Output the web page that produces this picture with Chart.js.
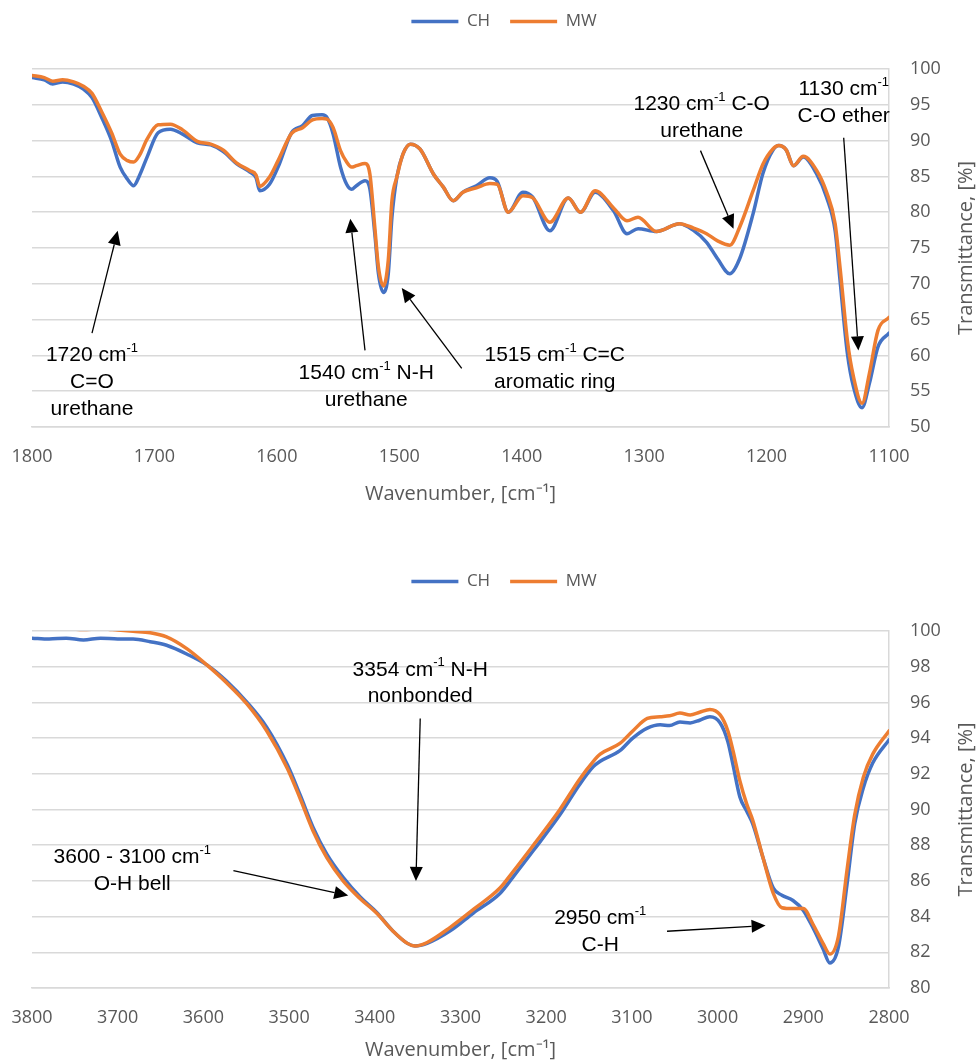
<!DOCTYPE html>
<html><head><meta charset="utf-8">
<script src="https://cdn.jsdelivr.net/npm/chart.js@4"></script>
<style>
html,body{margin:0;padding:0;background:#fff;}
#wrap{position:relative;width:976px;height:1063px;overflow:hidden;}
#c1{position:absolute;left:0;top:-9px;}
#c2{position:absolute;left:0;top:532px;}
</style></head><body>
<div id="wrap"><canvas id="c1" width="976" height="529"></canvas><canvas id="c2" width="976" height="531"></canvas></div>
<script>
// ---------- data ----------
const seriesNames = ['CH', 'MW'];

// Fingerprint region 1800-1100 cm-1
const fpWavenumber = [1800,1790,1783,1775,1766,1758,1751,1743,1735,1728,1722,1717,1712,1706,1697,1687,1677,1665,1654,1644,1633,1622,1617,1614,1606,1599,1588,1579,1571,1563,1559,1554,1548,1543,1539,1535,1528,1524,1520,1517,1513,1509,1506,1502,1497,1491,1483,1472,1464,1456,1448,1437,1426,1420,1411,1399,1391,1377,1362,1352,1340,1325,1314,1305,1290,1271,1260,1249,1240,1230,1222,1211,1203,1195,1190,1184,1178,1170,1159,1151,1144,1140,1134,1129,1122,1116,1109,1100];
const fpCH = [98.8,98.5,97.9,98.2,97.9,97.2,96.0,93.2,90.0,86.3,84.6,83.7,85.2,87.7,91.1,91.6,90.9,89.7,89.4,88.5,86.8,85.6,84.8,83.0,83.9,86.3,91.1,92.1,93.5,93.6,93.2,90.9,86.3,83.9,83.2,83.7,84.4,83.2,77.0,71.4,68.8,71.4,79.3,84.9,88.1,89.5,88.8,85.3,83.5,81.6,82.8,83.7,84.8,84.3,80.0,82.8,82.1,77.4,82.0,80.0,82.8,80.2,77.0,77.7,77.3,78.4,77.5,75.8,73.5,71.4,73.5,79.8,85.4,88.6,89.3,88.7,86.5,87.7,85.3,82.1,77.4,70.5,60.3,55.6,52.7,56.1,61.2,63.1];
const fpMW = [99.1,98.8,98.3,98.5,98.2,97.6,96.6,94.0,91.1,88.1,87.2,87.0,88.0,90.2,92.2,92.3,91.5,89.9,89.5,88.7,86.9,85.8,85.2,83.6,84.9,87.2,91.0,91.8,92.9,93.1,93.0,91.8,88.6,87.0,86.3,86.5,86.8,85.3,77.9,72.3,69.7,73.3,81.6,84.9,88.1,89.5,88.8,85.3,83.5,81.6,82.8,83.4,84.0,83.9,80.0,82.3,82.0,78.6,82.0,80.0,83.0,80.6,78.8,79.3,77.3,78.4,77.8,77.0,76.0,75.4,77.9,83.0,86.7,88.8,89.3,88.7,86.5,87.8,85.8,82.8,78.4,72.3,62.1,57.0,53.3,57.5,63.5,65.3];

// O-H / N-H / C-H region 3800-2800 cm-1
const ohWavenumber = [3800,3780,3760,3740,3720,3700,3682,3662,3643,3619,3596,3573,3549,3526,3502,3487,3472,3456,3437,3417,3398,3379,3362,3353,3339,3312,3285,3254,3239,3215,3184,3161,3145,3137,3114,3099,3082,3067,3056,3044,3032,3021,3009,2997,2988,2982,2974,2966,2959,2947,2935,2925,2912,2900,2889,2877,2869,2859,2849,2840,2830,2819,2800];
const ohCH = [99.6,99.55,99.6,99.5,99.6,99.55,99.55,99.4,99.2,98.7,98.1,97.2,96.0,94.6,92.5,90.8,89.0,87.5,86.2,85.1,84.25,83.2,82.5,82.35,82.5,83.2,84.2,85.3,86.2,87.7,89.7,91.4,92.4,92.7,93.3,94.0,94.56,94.75,94.7,94.9,94.85,95.0,95.2,94.85,93.8,92.5,90.7,89.9,89.2,87.3,85.6,85.2,84.9,84.35,83.4,82.2,81.4,82.3,85.8,89.2,91.2,92.6,93.9];
const ohMW = [100.35,100.3,100.15,100.08,100.12,100.05,99.98,99.9,99.67,99.0,98.1,97.1,95.9,94.4,92.3,90.6,88.8,87.3,86.0,85.0,84.2,83.2,82.5,82.35,82.55,83.4,84.4,85.6,86.5,88.0,90.0,91.7,92.7,93.1,93.7,94.4,95.1,95.2,95.25,95.4,95.3,95.45,95.6,95.3,94.4,93.3,91.6,90.3,89.4,87.3,85.3,84.5,84.45,84.45,83.6,82.5,81.9,82.9,86.6,89.7,91.8,93.1,94.4];

// tick labels
const fpXTicks = [1800,1700,1600,1500,1400,1300,1200,1100];
const fpYTicks = [50,55,60,65,70,75,80,85,90,95,100];
const ohXTicks = [3800,3700,3600,3500,3400,3300,3200,3100,3000,2900,2800];
const ohYTicks = [80,82,84,86,88,90,92,94,96,98,100];

// annotations (text anchored in data units: [wavenumber, transmittance])
const fpNotes = [
  {lines:['1720 cm^{-1}','C=O','urethane'], at:[1751,60.0], from:[1751,63.1], to:[1730,77.4]},
  {lines:['1540 cm^{-1} N-H','urethane'], at:[1527,57.5], from:[1528,60.7], to:[1540,79.1]},
  {lines:['1515 cm^{-1} C=C','aromatic ring'], at:[1373,60.0], from:[1449,58.2], to:[1498,69.4]},
  {lines:['1230 cm^{-1} C-O','urethane'], at:[1253,95.1], from:[1254,88.6], to:[1227,77.7]},
  {lines:['1130 cm^{-1}','C-O ether'], at:[1137,97.2], from:[1137,90.4], to:[1125,60.7]}
];
const ohNotes = [
  {lines:['3354 cm^{-1} N-H','nonbonded'], at:[3347,97.83], from:[3347,95.1], to:[3352,86.0]},
  {lines:['3600 - 3100 cm^{-1}','O-H bell'], at:[3683,87.3], from:[3565,86.57], to:[3431,85.18]},
  {lines:['2950 cm^{-1}','C-H'], at:[3137,83.9], from:[3059,83.18], to:[2944,83.5]}
];

// ---------- drawing ----------
const BLUE = '#4472C4', ORANGE = '#ED7D31', GRID = '#D9D9D9', AXIS_TXT = '#595959';
const TICK_FONT = {family: "'Open Sans', sans-serif", size: 18};

function drawRich(ctx, str, cx, cy) {
  const parts = [];
  const re = /\^\{(.*?)\}/g; let last = 0, m;
  while ((m = re.exec(str))) {
    if (m.index > last) parts.push({t: str.slice(last, m.index), sup: false});
    parts.push({t: m[1], sup: true}); last = re.lastIndex;
  }
  if (last < str.length) parts.push({t: str.slice(last), sup: false});
  const fN = "21px 'Liberation Sans', Arial, sans-serif", fS = "13px 'Liberation Sans', Arial, sans-serif";
  let w = 0;
  parts.forEach(p => { ctx.font = p.sup ? fS : fN; p.w = ctx.measureText(p.t).width; w += p.w; });
  let x = cx - w / 2;
  ctx.textAlign = 'left'; ctx.textBaseline = 'middle';
  parts.forEach(p => { ctx.font = p.sup ? fS : fN; ctx.fillText(p.t, x, p.sup ? cy - 7 : cy); x += p.w; });
}

function makeNotesPlugin(notes) {
  return {
    id: 'notes',
    afterDatasetsDraw(chart) {
      const ctx = chart.ctx, xs = chart.scales.x, ys = chart.scales.y;
      ctx.save();
      ctx.fillStyle = '#000'; ctx.strokeStyle = '#000';
      notes.forEach(n => {
        const cx = xs.getPixelForValue(n.at[0]), cy = ys.getPixelForValue(n.at[1]);
        n.lines.forEach((l, i) => drawRich(ctx, l, cx, cy + i * 26.7));
        const x1 = xs.getPixelForValue(n.from[0]), y1 = ys.getPixelForValue(n.from[1]);
        const x2 = xs.getPixelForValue(n.to[0]), y2 = ys.getPixelForValue(n.to[1]);
        const ang = Math.atan2(y2 - y1, x2 - x1), L = 14, H = 6.5;
        const bx = x2 - L * Math.cos(ang), by = y2 - L * Math.sin(ang);
        ctx.lineWidth = 1.3;
        ctx.beginPath(); ctx.moveTo(x1, y1); ctx.lineTo(bx, by); ctx.stroke();
        ctx.beginPath(); ctx.moveTo(x2, y2);
        ctx.lineTo(bx + H * Math.sin(ang), by - H * Math.cos(ang));
        ctx.lineTo(bx - H * Math.sin(ang), by + H * Math.cos(ang));
        ctx.closePath(); ctx.fill();
      });
      ctx.restore();
    }
  };
}

const rightTitlePlugin = {
  id: 'rightTitle',
  afterDraw(chart) {
    const ctx = chart.ctx, a = chart.chartArea;
    ctx.save();
    ctx.translate(a.right + 77, (a.top + a.bottom) / 2);
    ctx.rotate(-Math.PI / 2);
    ctx.font = "20px 'Open Sans', sans-serif";
    ctx.fillStyle = AXIS_TXT; ctx.textAlign = 'center'; ctx.textBaseline = 'middle';
    ctx.fillText('Transmittance, [%]', 0, 0);
    ctx.restore();
  }
};

function legendGap(extra) {
  return {
    id: 'legendGap',
    beforeInit(chart) {
      const orig = chart.legend.fit;
      chart.legend.fit = function () { orig.call(this); this.height += extra; };
    }
  };
}

function build(canvasId, wn, ch, mw, xTicks, yTicks, notes, padTop, gap, xHeight, titlePadBottom) {
  const pts = arr => wn.map((w, i) => ({x: w, y: arr[i]}));
  const ds = (label, arr, color, order) => ({
    label, data: pts(arr), borderColor: color, backgroundColor: color,
    borderWidth: 3.5, pointRadius: 0, pointHoverRadius: 0,
    cubicInterpolationMode: 'monotone', borderCapStyle: 'round', borderJoinStyle: 'round', order
  });
  const cfg = {
    type: 'line',
    data: {datasets: [ds(seriesNames[0], ch, BLUE, 1), ds(seriesNames[1], mw, ORANGE, 0)]},
    options: {
      responsive: false, animation: false, devicePixelRatio: 1,
      layout: {padding: {left: 32, right: 0, top: padTop, bottom: 0}},
      plugins: {
        tooltip: {enabled: false},
        legend: {
          position: 'top', align: 'center',
          labels: {
            usePointStyle: true, pointStyle: 'line', pointStyleWidth: 47, boxHeight: 17,
            padding: 20, color: AXIS_TXT,
            font: {family: "'Open Sans', sans-serif", size: 17},
            sort: (a, b) => a.datasetIndex - b.datasetIndex
          }
        }
      },
      scales: {
        x: {
          type: 'linear', reverse: true, min: xTicks[xTicks.length - 1], max: xTicks[0],
          afterBuildTicks: s => { s.ticks = xTicks.map(v => ({value: v})); },
          afterFit: s => { s.height = xHeight; },
          grid: {display: false, drawTicks: true, tickLength: 8},
          border: {display: true, color: GRID, width: 1.5},
          ticks: {color: AXIS_TXT, font: TICK_FONT, padding: 11, maxRotation: 0, autoSkip: false,
                  callback: v => String(v)},
          title: {display: true, text: 'Wavenumber, [cm\u207B\u00B9]', color: AXIS_TXT,
                  font: {family: "'Open Sans', sans-serif", size: 20}, padding: {top: 0, bottom: titlePadBottom}}
        },
        y: {
          position: 'right', min: yTicks[0], max: yTicks[yTicks.length - 1],
          afterBuildTicks: s => { s.ticks = yTicks.map(v => ({value: v})); },
          afterFit: s => { s.width = 87; },
          grid: {color: GRID, lineWidth: 1.5, drawTicks: false},
          border: {display: true, color: GRID, width: 1.5},
          ticks: {color: AXIS_TXT, font: TICK_FONT, padding: 21, callback: v => String(v)}
        }
      }
    },
    plugins: [legendGap(gap), makeNotesPlugin(notes), rightTitlePlugin]
  };
  return new Chart(document.getElementById(canvasId), cfg);
}

build('c1', fpWavenumber, fpCH, fpMW, fpXTicks, fpYTicks, fpNotes, 2, 29, 93, 14);
build('c2', ohWavenumber, ohCH, ohMW, ohXTicks, ohYTicks, ohNotes, 21, 31, 75, 1);
</script>
</body></html>
